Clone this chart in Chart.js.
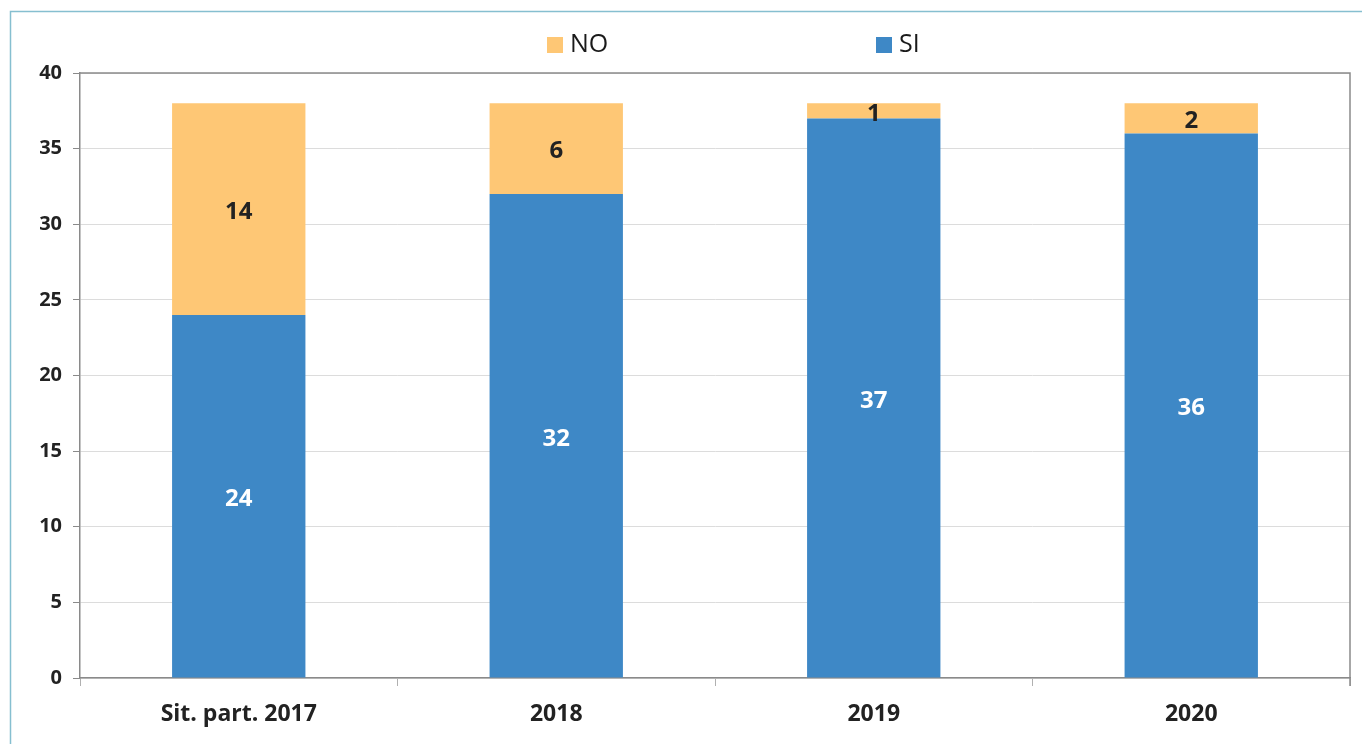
<!DOCTYPE html>
<html>
<head>
<meta charset="utf-8">
<script src="https://cdn.jsdelivr.net/npm/chart.js@4"></script>
<style>
  html, body { margin: 0; padding: 0; background: #ffffff; }
  #wrap { width: 1362px; height: 744px; position: relative; }
</style>
</head>
<body>
<div id="wrap"><canvas id="c" width="1362" height="744"></canvas></div>
<script>
const categories = ['Sit. part. 2017', '2018', '2019', '2020'];
const siValues = [24, 32, 37, 36];
const noValues = [14, 6, 1, 2];
const yTicks = [0, 5, 10, 15, 20, 25, 30, 35, 40];

const FONT = '"Open Sans", Lato, "Liberation Sans", sans-serif';
const BLUE = '#3e88c6';
const ORANGE = '#fec775';

const framePlugin = {
  id: 'frame',
  beforeDraw(chart) {
    const ctx = chart.ctx;
    ctx.save();
    ctx.strokeStyle = '#86bfd0';
    ctx.lineWidth = 1.5;
    ctx.beginPath();
    ctx.moveTo(10.5, 744);
    ctx.lineTo(10.5, 11.5);
    ctx.lineTo(1362, 11.5);
    ctx.stroke();
    ctx.restore();
  },
  afterDraw(chart) {
    const ctx = chart.ctx;
    const a = chart.chartArea;
    ctx.save();
    ctx.strokeStyle = '#8a8a8a';
    ctx.lineWidth = 1.5;
    ctx.beginPath();
    ctx.moveTo(a.left, a.top);
    ctx.lineTo(a.right, a.top);
    ctx.lineTo(a.right, a.bottom + 8);
    ctx.stroke();
    ctx.restore();
  }
};

const legendPlugin = {
  id: 'customLegend',
  afterDraw(chart) {
    const ctx = chart.ctx;
    const items = [
      { ds: chart.data.datasets[1], x: 547 },
      { ds: chart.data.datasets[0], x: 876 }
    ];
    ctx.save();
    ctx.font = '25px ' + FONT;
    ctx.textBaseline = 'middle';
    ctx.textAlign = 'left';
    items.forEach(it => {
      ctx.fillStyle = it.ds.backgroundColor;
      ctx.fillRect(it.x, 37, 16, 16);
      ctx.fillStyle = '#1a1a1a';
      ctx.fillText(it.ds.label, it.x + 23, 45);
    });
    ctx.restore();
  }
};

const labelPlugin = {
  id: 'segLabels',
  afterDatasetsDraw(chart) {
    const ctx = chart.ctx;
    ctx.save();
    ctx.font = 'bold 24px ' + FONT;
    ctx.textAlign = 'center';
    ctx.textBaseline = 'middle';
    chart.data.datasets.forEach((ds, i) => {
      const meta = chart.getDatasetMeta(i);
      meta.data.forEach((el, j) => {
        const p = el.getProps(['x', 'y', 'base'], true);
        ctx.fillStyle = ds.labelColor;
        ctx.fillText(String(ds.data[j]), p.x, (p.y + p.base) / 2 + 3);
      });
    });
    ctx.restore();
  }
};

new Chart(document.getElementById('c'), {
  type: 'bar',
  data: {
    labels: categories,
    datasets: [
      { label: 'SI', data: siValues, backgroundColor: BLUE, labelColor: '#ffffff',
        barPercentage: 0.84, categoryPercentage: 0.5 },
      { label: 'NO', data: noValues, backgroundColor: ORANGE, labelColor: '#222222',
        barPercentage: 0.84, categoryPercentage: 0.5 }
    ]
  },
  options: {
    responsive: false,
    animation: false,
    layout: { padding: { top: 73, right: 12, left: 10, bottom: 0 } },
    plugins: { legend: { display: false }, tooltip: { enabled: false } },
    scales: {
      x: {
        stacked: true,
        afterFit(axis) { axis.height = 66; },
        grid: { display: true, drawOnChartArea: false, drawTicks: true, tickLength: 8,
                tickColor: '#b0b0b0', offset: true },
        border: { display: true, color: '#8a8a8a', width: 1.5 },
        ticks: { color: '#222222', font: { family: FONT, size: 23, weight: 'bold' }, padding: 15 }
      },
      y: {
        stacked: true,
        min: 0, max: 40,
        afterFit(axis) { axis.width = 70; },
        afterBuildTicks(axis) { axis.ticks = yTicks.map(v => ({ value: v })); },
        grid: { color: '#dcdcdc', lineWidth: 1, tickLength: 7, tickColor: '#8a8a8a' },
        border: { display: true, color: '#8a8a8a', width: 1.5 },
        ticks: { color: '#222222', font: { family: FONT, size: 20, weight: 'bold' }, padding: 11 }
      }
    }
  },
  plugins: [framePlugin, legendPlugin, labelPlugin]
});
</script>
</body>
</html>
